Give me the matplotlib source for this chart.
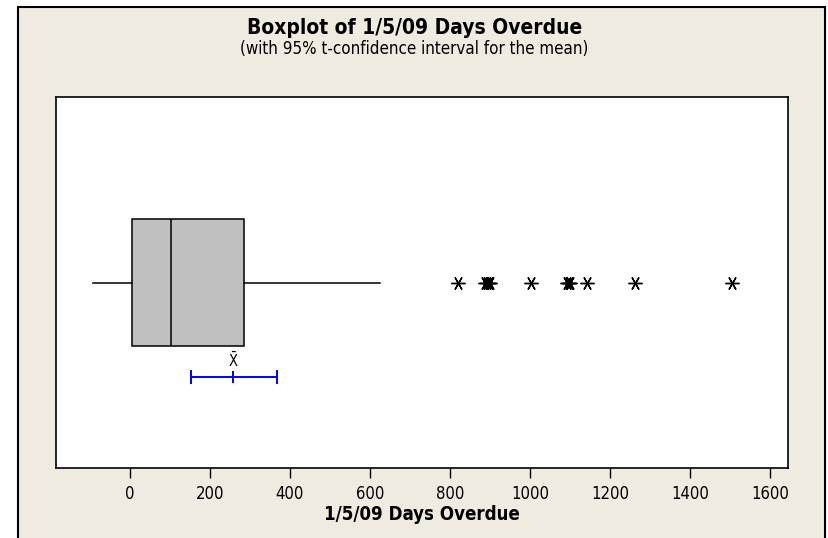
import matplotlib.pyplot as plt
from matplotlib.patches import Rectangle

# box summary
q1 = 5
median = 103
q3 = 285
whisker_lo = -92
whisker_hi = 625
outliers = [820, 888, 893, 897, 900, 1003, 1092, 1097, 1101, 1143, 1263, 1505]

# 95% t-confidence interval for the mean
mean = 258
ci_lo = 152
ci_hi = 367

xticks = [0, 200, 400, 600, 800, 1000, 1200, 1400, 1600]

plt.rcParams['font.family'] = ['DejaVu Sans']
plt.rcParams['font.stretch'] = 'condensed'

fig = plt.figure(figsize=(8.29, 5.38), dpi=100, facecolor='white')
W, H = 829, 538

# beige panel with black border (top/left/right)
fig.patches.append(Rectangle((18 / W, -0.05), (825 - 18) / W, 1.05 - 7 / H,
                             transform=fig.transFigure, facecolor='#efebe1',
                             edgecolor='black', lw=1.5, zorder=-10))

ax = fig.add_axes([56 / W, 1 - 468 / H, (788 - 56) / W, (468 - 97) / H])
ax.set_facecolor('white')
ax.set_zorder(1)

stats = [{'med': median, 'q1': q1, 'q3': q3, 'whislo': whisker_lo,
          'whishi': whisker_hi, 'fliers': outliers}]
ax.bxp(stats, positions=[1], widths=0.5, vert=False, patch_artist=True,
       showcaps=False,
       boxprops=dict(facecolor='#c0c0c0', edgecolor='black', lw=1.1),
       medianprops=dict(color='black', lw=1.1),
       whiskerprops=dict(color='black', lw=1.1),
       flierprops=dict(marker=(6, 2, 90), markersize=10, markeredgecolor='black',
                       markerfacecolor='black', markeredgewidth=1.0))

ci_y = 0.627
ax.errorbar([mean], [ci_y], xerr=[[mean - ci_lo], [ci_hi - mean]], fmt='none',
            ecolor='#0000ff', elinewidth=1.4, capsize=5, capthick=1.4)
ax.plot([mean], [ci_y], marker='|', color='#0000ff', markersize=8, mew=1.4)
ax.text(mean, 0.655, r'$\bar{\mathsf{X}}$', ha='center', va='bottom', fontsize=10.5)

ax.set_xlim(-185, 1645)
ax.set_ylim(0.268, 1.732)
ax.set_xticks(xticks)
ax.set_xticklabels([str(t) for t in xticks], fontsize=12)
ax.set_yticks([])
ax.tick_params(axis='x', direction='out', length=7, width=1, pad=5)
for s in ax.spines.values():
    s.set_linewidth(1.2)

ax.set_xlabel('1/5/09 Days Overdue', fontsize=13.4, fontweight='bold', labelpad=2)

fig.text(0.5, 1 - 28 / H, 'Boxplot of 1/5/09 Days Overdue', ha='center', va='center',
         fontsize=15, fontweight='bold')
fig.text(0.5, 1 - 49 / H, '(with 95% t-confidence interval for the mean)', ha='center',
         va='center', fontsize=12.2)

fig.savefig('out.png', dpi=100, facecolor=fig.get_facecolor())
